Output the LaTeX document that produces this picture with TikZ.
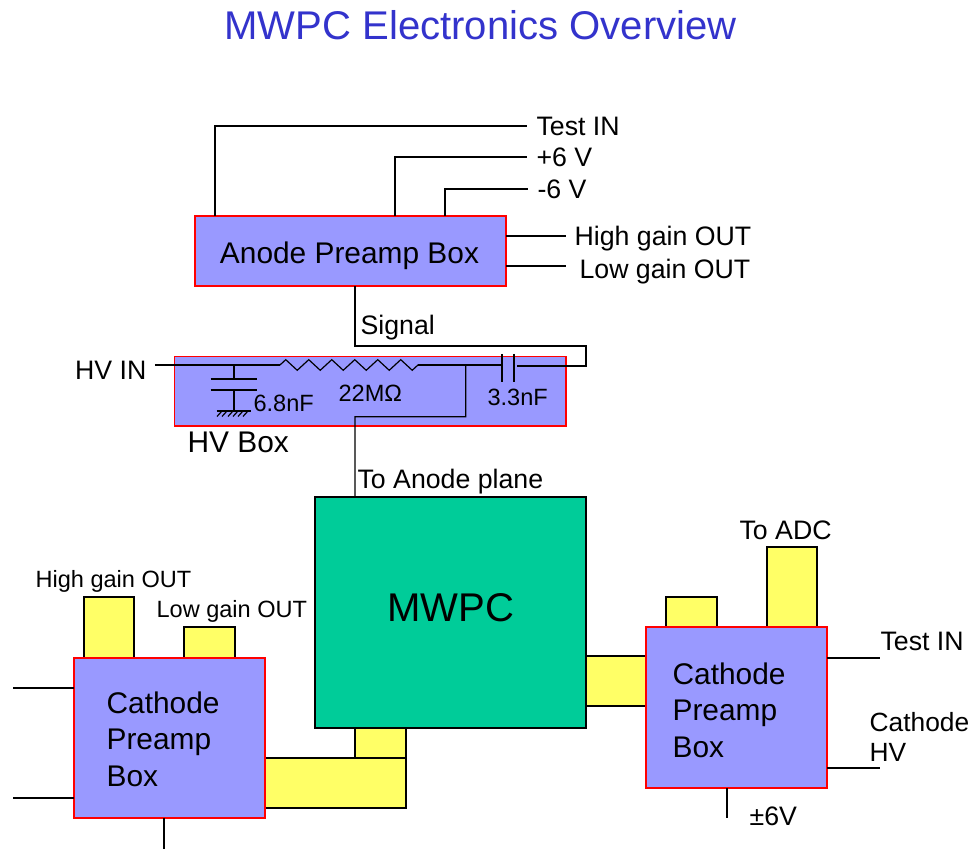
\documentclass[tikz,border=0pt]{standalone}
\usepackage{fontspec}
\setmainfont{Liberation Sans}
\usetikzlibrary{decorations.pathmorphing}
\definecolor{preampblue}{HTML}{9999FF}
\definecolor{tabyellow}{HTML}{FFFF66}
\definecolor{chamber}{HTML}{00CC99}
\definecolor{titleblue}{HTML}{3333CC}
\begin{document}
\begin{tikzpicture}[line width=0.34pt,
    sized/.style 2 args={minimum width=#1cm, minimum height=#2cm, inner sep=0pt, outer sep=0pt},
    preamp/.style={draw=red, fill=preampblue},
    tab/.style={draw=black, fill=tabyellow},
    big/.style={font=\fontsize{8.5}{10.4}\selectfont},
    mid/.style={font=\fontsize{7.6}{8.8}\selectfont, text height=0.19cm, text depth=0pt},
    small/.style={font=\fontsize{6.7}{8}\selectfont, text height=0.17cm, text depth=0pt},
    lab/.style={anchor=west, inner sep=0.09cm}]
    \useasboundingbox (0,0) rectangle (9.8,8.49);
    \node[anchor=west, inner sep=0pt, text=titleblue, font=\fontsize{11.4}{13}\selectfont] (title) at (2.24,8.24) {MWPC Electronics Overview};

    \node[tab, sized={0.51}{0.30}] (neckL) at (3.805,1.06) {};
    \node[tab, sized={1.41}{0.50}] (cableL) at (3.355,0.66) {};
    \node[tab, sized={0.60}{0.50}] (cableR) at (6.16,1.68) {};
    \node[tab, sized={0.50}{0.61}] (hiTab) at (1.09,2.215) {};
    \node[tab, sized={0.51}{0.31}] (loTab) at (2.095,2.065) {};
    \node[tab, sized={0.51}{0.30}] (tabA) at (6.915,2.37) {};
    \node[tab, sized={0.50}{0.80}] (tabB) at (7.92,2.62) {};

    \node[preamp, sized={3.11}{0.70}] (anode) at (3.505,5.98) {};
    \node[big, inner sep=0pt] (anodeText) at (3.495,5.93) {Anode Preamp Box};
    \node[preamp, sized={3.915}{0.693}] (hvbox) at (3.7025,4.5765) {};
    \node[draw=black, fill=chamber, sized={2.71}{2.31}] (mwpc) at (4.505,2.365) {};
    \node[inner sep=0pt, font=\fontsize{11.4}{13}\selectfont] (mwpcText) at (4.51,2.41) {MWPC};
    \node[preamp, sized={1.91}{1.60}] (cathL) at (1.695,1.11) {};
    \node[preamp, sized={1.81}{1.61}] (cathR) at (7.365,1.415) {};
    \node[big, anchor=west, align=left, inner sep=0pt] (cathLText) at (1.06,1.10) {Cathode\\Preamp\\Box};
    \node[big, anchor=west, align=left, inner sep=0pt] (cathRText) at (6.72,1.39) {Cathode\\Preamp\\Box};

    \node[mid, lab] (testin) at (5.27,7.23) {Test IN};
    \node[mid, lab] (plus) at (5.27,6.92) {+6 V};
    \node[mid, lab] (minus) at (5.28,6.60) {-6 V};
    \node[mid, lab] (higain) at (5.65,6.13) {High gain OUT};
    \node[mid, lab] (logain) at (5.70,5.80) {Low gain OUT};
    \node[mid, lab] (signal) at (3.51,5.24) {Signal};
    \node[mid, anchor=east, inner sep=0.08cm] (hvin) at (1.55,4.79) {HV IN};
    \node[big, anchor=west, inner sep=0pt, text height=0.215cm] (hvname) at (1.87,4.07) {HV Box};
    \node[mid, lab] (toanode) at (3.48,3.70) {To Anode plane};
    \node[small, lab] (cap1) at (2.44,4.46) {6.8nF};
    \node[small, lab] (res) at (3.29,4.56) {22MΩ};
    \node[small, lab] (cap2) at (4.78,4.52) {3.3nF};
    \node[mid, lab] (toadc) at (7.30,3.19) {To ADC};
    \node[small, lab] (hileft) at (0.26,2.70) {High gain OUT};
    \node[small, lab] (loleft) at (1.47,2.40) {Low gain OUT};
    \node[mid, anchor=west, inner sep=0pt] (testr) at (8.80,2.08) {Test IN};
    \node[font=\fontsize{7.5}{8.8}\selectfont, anchor=west, align=left, inner sep=0pt] (cathhv) at (8.69,1.12) {Cathode\\HV};
    \node[mid, lab] (pm) at (7.40,0.33) {±6V};

    \draw ([xshift=0.2cm]anode.north west) |- (testin.west);
    \draw ([xshift=2.0cm]anode.north west) |- (plus.west);
    \draw ([xshift=2.5cm]anode.north west) |- (minus.west);
    \draw ([yshift=-0.2cm]anode.north east) -- ++(0.6,0);
    \draw ([yshift=0.2cm]anode.south east) -- ++(0.6,0);
    \draw ([xshift=1.6cm]anode.south west) -- ++(0,-0.6) -- ++(2.31,0) -- ++(0,-0.2) -- ++(-0.69,0);

    \coordinate (rstart) at (2.80,4.84);
    \coordinate (rend) at (4.18,4.84);
    \coordinate (junction) at (4.657,4.84);
    \draw (hvin.east |- rstart) -- (rstart);
    \draw[decorate, decoration={zigzag, amplitude=0.053cm, segment length=0.23cm}] (rstart) -- (rend);
    \draw (rend) -- (5.02,4.84);
    \draw (5.02,4.95) -- (5.02,4.67);
    \draw (5.14,4.95) -- (5.14,4.67);
    \draw (junction) -- (4.657,4.323) -- (3.55,4.323) -- ([xshift=0.4cm]mwpc.north west);

    \draw (2.34,4.84) -- (2.34,4.70);
    \draw (2.107,4.70) -- (2.567,4.70);
    \draw (2.107,4.59) -- (2.567,4.59);
    \draw (2.34,4.59) -- (2.34,4.38);
    \draw (2.167,4.38) -- (2.507,4.38);
    \foreach \x in {2.22,2.27,2.33,2.38,2.43,2.48}
        \draw (\x,4.38) -- ++(-0.05,-0.055);

    \draw ([yshift=-0.3cm]cathL.north west) -- ++(-0.61,0);
    \draw ([yshift=0.2cm]cathL.south west) -- ++(-0.61,0);
    \draw ([xshift=0.9cm]cathL.south west) -- ++(0,-0.31);
    \draw ([yshift=-0.31cm]cathR.north east) -- ++(0.53,0);
    \draw ([yshift=0.2cm]cathR.south east) -- ++(0.53,0);
    \draw ([xshift=0.81cm]cathR.south west) -- ++(0,-0.30);
\end{tikzpicture}
\end{document}
